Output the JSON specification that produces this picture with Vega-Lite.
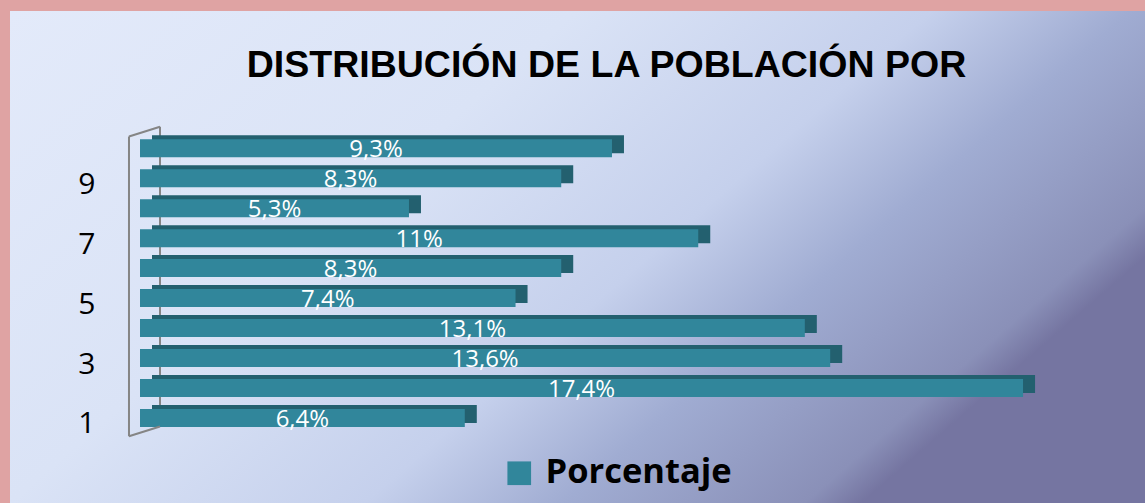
{
  "$schema": "https://vega.github.io/schema/vega-lite/v6.json",
  "width": 1135,
  "height": 492,
  "autosize": {"type": "none"},
  "padding": {"left": 10, "top": 11, "right": 0, "bottom": 0},
  "background": "#dfa3a3",
  "title": {
    "text": "DISTRIBUCIÓN DE LA POBLACIÓN POR",
    "font": "Liberation Sans",
    "fontSize": 37.5,
    "fontWeight": "bold",
    "color": "#000000",
    "anchor": "middle",
    "frame": "group",
    "baseline": "alphabetic",
    "offset": -103,
    "dx": 29
  },
  "config": {
    "view": {
      "stroke": null,
      "fill": {
        "gradient": "linear",
        "x1": 0, "y1": 0, "x2": 1, "y2": 0.5,
        "stops": [
          {"offset": 0, "color": "#e3eafa"},
          {"offset": 0.4, "color": "#dae3f6"},
          {"offset": 0.65, "color": "#c5d0ec"},
          {"offset": 0.79, "color": "#a0acd2"},
          {"offset": 0.96, "color": "#8a90b8"},
          {"offset": 1, "color": "#7575a1"}
        ]
      }
    }
  },
  "datasets": {
    "bars": [
      {"cat": 1, "value": 6.4, "label": "6,4%", "serie": "Porcentaje"},
      {"cat": 2, "value": 17.4, "label": "17,4%", "serie": "Porcentaje"},
      {"cat": 3, "value": 13.6, "label": "13,6%", "serie": "Porcentaje"},
      {"cat": 4, "value": 13.1, "label": "13,1%", "serie": "Porcentaje"},
      {"cat": 5, "value": 7.4, "label": "7,4%", "serie": "Porcentaje"},
      {"cat": 6, "value": 8.3, "label": "8,3%", "serie": "Porcentaje"},
      {"cat": 7, "value": 11, "label": "11%", "serie": "Porcentaje"},
      {"cat": 8, "value": 5.3, "label": "5,3%", "serie": "Porcentaje"},
      {"cat": 9, "value": 8.3, "label": "8,3%", "serie": "Porcentaje"},
      {"cat": 10, "value": 9.3, "label": "9,3%", "serie": "Porcentaje"}
    ],
    "one": [{"k": 1}]
  },
  "layer": [
    {
      "data": {"name": "one"},
      "mark": {"type": "rule", "color": "#858585", "strokeWidth": 2},
      "encoding": {
        "x": {
          "datum": 0.394, "type": "quantitative",
          "scale": {"domain": [-2.5616, 19.803], "nice": false, "zero": false},
          "axis": null
        },
        "y": {
          "datum": 0.716, "type": "quantitative",
          "scale": {"domain": [-1.671, 14.413], "nice": false, "zero": false},
          "axis": {
            "values": [1, 3, 5, 7, 9],
            "orient": "left",
            "offset": -85,
            "domain": false,
            "ticks": false,
            "tickSize": 0,
            "grid": false,
            "labelPadding": 0,
            "labelOffset": 6,
            "labelFont": "Open Sans",
            "labelFontSize": 30,
            "labelColor": "#000000",
            "labelAlign": "right",
            "title": null
          }
        },
        "y2": {"datum": 10.719}
      }
    },
    {
      "data": {"name": "bars"},
      "mark": {"type": "bar", "orient": "horizontal", "size": 18, "color": "#23606f", "xOffset": 12, "yOffset": -4},
      "encoding": {
        "x": {"field": "value", "type": "quantitative"},
        "y": {"field": "cat", "type": "quantitative"}
      }
    },
    {
      "data": {"name": "bars"},
      "mark": {"type": "bar", "orient": "horizontal", "size": 18},
      "encoding": {
        "x": {"field": "value", "type": "quantitative"},
        "y": {"field": "cat", "type": "quantitative"},
        "color": {
          "field": "serie", "type": "nominal",
          "scale": {"range": ["#31869b"]},
          "legend": {
            "orient": "none",
            "legendX": 492,
            "legendY": 445,
            "padding": 0,
            "title": null,
            "symbolType": "square",
            "symbolSize": 560,
            "symbolStrokeWidth": 0,
            "symbolOpacity": 1,
            "labelFont": "Open Sans",
            "labelFontSize": 34.5,
            "labelFontWeight": "bold",
            "labelColor": "#000000",
            "labelOffset": 9,
            "labelLimit": 0
          }
        }
      }
    },
    {
      "data": {"name": "one"},
      "mark": {"type": "rule", "color": "#858585", "strokeWidth": 2},
      "encoding": {
        "x": {"datum": -0.217, "type": "quantitative"},
        "y": {"datum": 0.389, "type": "quantitative"},
        "y2": {"datum": 10.392}
      }
    },
    {
      "data": {"name": "one"},
      "mark": {"type": "rule", "color": "#858585", "strokeWidth": 2},
      "encoding": {
        "x": {"datum": -0.217, "type": "quantitative"},
        "x2": {"datum": 0.394},
        "y": {"datum": 10.392, "type": "quantitative"},
        "y2": {"datum": 10.719}
      }
    },
    {
      "data": {"name": "one"},
      "mark": {"type": "rule", "color": "#858585", "strokeWidth": 2},
      "encoding": {
        "x": {"datum": -0.217, "type": "quantitative"},
        "x2": {"datum": 0.394},
        "y": {"datum": 0.389, "type": "quantitative"},
        "y2": {"datum": 0.716}
      }
    },
    {
      "data": {"name": "bars"},
      "transform": [{"calculate": "datum.value / 2", "as": "mid"}],
      "mark": {"type": "text", "color": "#ffffff", "font": "Open Sans", "fontSize": 24, "baseline": "middle", "align": "center", "dy": 2},
      "encoding": {
        "x": {"field": "mid", "type": "quantitative"},
        "y": {"field": "cat", "type": "quantitative"},
        "text": {"field": "label"}
      }
    }
  ]
}
